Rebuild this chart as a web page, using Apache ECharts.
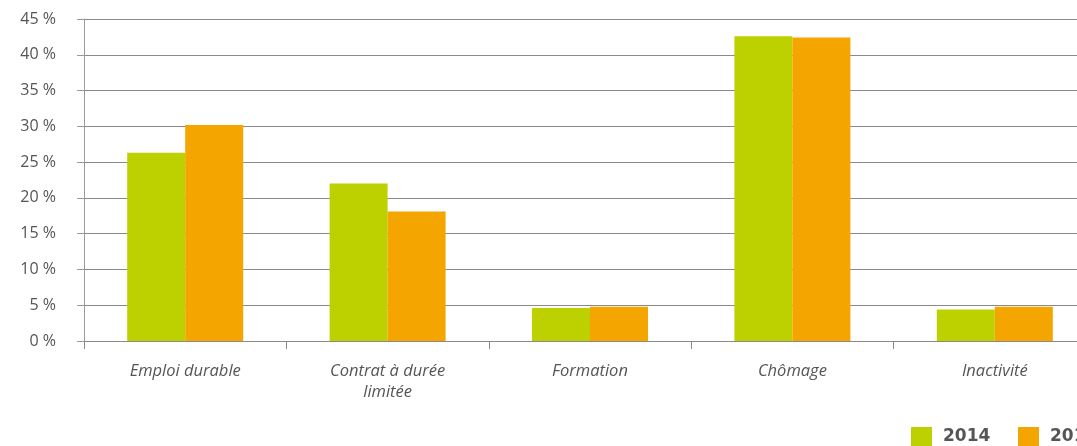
<!DOCTYPE html>
<html><head><meta charset="utf-8">
<script src="https://cdn.jsdelivr.net/npm/echarts@6/dist/echarts.min.js"></script>
<style>html,body{margin:0;padding:0;background:#fff}#c{width:1077px;height:446px}</style>
</head><body><div id="c"></div>
<script>
const categories = ['Emploi durable', 'Contrat à durée\nlimitée', 'Formation', 'Chômage', 'Inactivité'];
const seriesNames = ['2014', '2015'];
const values2014 = [26.3, 22.0, 4.6, 42.6, 4.4];
const values2015 = [30.2, 18.1, 4.8, 42.4, 4.8];
const yTicks = [0, 5, 10, 15, 20, 25, 30, 35, 40, 45];

const chart = echarts.init(document.getElementById('c'), null, {renderer: 'canvas'});
const legendText = {fontFamily: 'DejaVu Sans', fontWeight: 'bold', fontSize: 17, color: '#555', padding: [0, 0, 0, 6]};
chart.setOption({
  animation: false,
  grid: {left: 84, top: 19, height: 322, width: 1012, containLabel: false, outerBoundsMode: 'none'},
  legend: [
    {data: [seriesNames[0]], left: 911, top: 427, itemWidth: 21, itemHeight: 20, itemGap: 0, padding: 0, icon: 'rect', textStyle: legendText},
    {data: [seriesNames[1]], left: 1018, top: 427, itemWidth: 21, itemHeight: 20, itemGap: 0, padding: 0, icon: 'rect', textStyle: legendText}
  ],
  xAxis: {
    type: 'category', data: categories,
    axisLine: {lineStyle: {color: '#8a8a8a', width: 1}},
    axisTick: {show: true, length: 8, lineStyle: {color: '#8a8a8a'}},
    axisLabel: {fontFamily: 'Open Sans', fontStyle: 'italic', fontSize: 16.5, color: '#555', margin: 20, lineHeight: 21}
  },
  yAxis: {
    type: 'value', min: 0, max: 45, interval: 5,
    axisLine: {show: true, lineStyle: {color: '#9a9a9a', width: 1}},
    axisTick: {show: true, length: 7, lineStyle: {color: '#9a9a9a'}},
    splitLine: {show: true, lineStyle: {color: '#8a8a8a', width: 1}},
    axisLabel: {fontFamily: 'Open Sans', fontSize: 16, color: '#555', margin: 28,
      formatter: v => yTicks.includes(v) ? v + ' %' : ''}
  },
  series: [
    {name: seriesNames[0], type: 'bar', data: values2014, barWidth: 58, barGap: '0%', itemStyle: {color: '#bdd000'}},
    {name: seriesNames[1], type: 'bar', data: values2015, barWidth: 58, barGap: '0%', itemStyle: {color: '#f5a500'}}
  ]
});
</script></body></html>
